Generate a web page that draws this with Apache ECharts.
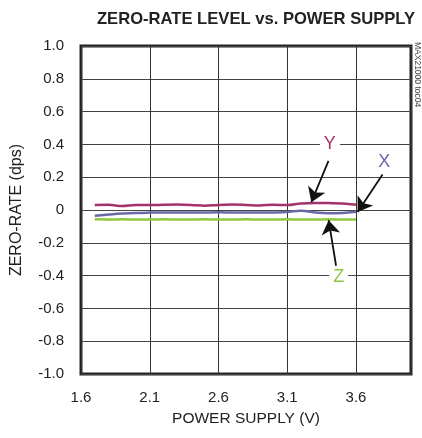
<!DOCTYPE html>
<html><head><meta charset="utf-8">
<script src="https://cdn.jsdelivr.net/npm/echarts@6/dist/echarts.min.js"></script>
<style>html,body{margin:0;padding:0;background:#fff}#c{width:422px;height:438px}</style>
</head><body><div id="c"></div>
<script>
const supplyV = [1.7,1.8,1.9,2.0,2.1,2.2,2.3,2.4,2.5,2.6,2.7,2.8,2.9,3.0,3.1,3.2,3.3,3.4,3.5,3.6];
const yAxisRate = [0.030,0.032,0.024,0.030,0.030,0.032,0.033,0.031,0.026,0.031,0.033,0.031,0.028,0.032,0.030,0.040,0.043,0.042,0.040,0.032];
const xAxisRate = [-0.035,-0.028,-0.022,-0.018,-0.016,-0.015,-0.015,-0.016,-0.015,-0.014,-0.015,-0.016,-0.016,-0.015,-0.012,-0.004,-0.015,-0.020,-0.018,-0.010];
const zAxisRate = [-0.057,-0.058,-0.057,-0.058,-0.058,-0.057,-0.058,-0.058,-0.057,-0.058,-0.058,-0.057,-0.058,-0.058,-0.057,-0.058,-0.058,-0.057,-0.058,-0.058];
const xTicks = [1.6,2.1,2.6,3.1,3.6];
const yTicks = [-1.0,-0.8,-0.6,-0.4,-0.2,0,0.2,0.4,0.6,0.8,1.0];
// annotation: label position [x,y], arrow start, arrow tip
const annY = {label:[3.41,0.40], from:[3.40,0.30], to:[3.275,0.048]};
const annX = {label:[3.805,0.29], from:[3.793,0.216], to:[3.612,-0.012]};
const annZ = {label:[3.474,-0.41], from:[3.455,-0.34], to:[3.401,-0.062]};

const colY = '#a3336b', colX = '#6a69a8', colZ = '#8dc63f';
const font = '"Liberation Sans", Arial, sans-serif';

function pairs(xs, ys){ return xs.map((x,i)=>[x, ys[i]]); }
function ann(a, name, color){
  return {
    type:'line', data:[], silent:true,
    markLine:{
      silent:true, symbol:['none','arrow'], symbolSize:14,
      lineStyle:{color:'#111', width:1.8, type:'solid'},
      label:{show:false},
      data:[[{coord:a.from},{coord:a.to}]],
      animation:false
    },
    markPoint:{
      silent:true, symbol:'rect', symbolSize:[1,1],
      itemStyle:{color:'rgba(0,0,0,0)'},
      label:{show:true, formatter:name, color:color, fontSize:18, fontFamily:font,
             backgroundColor:'#fff', padding:[0,4,0,4], position:'inside'},
      data:[{coord:a.label}],
      animation:false
    }
  };
}

const chart = echarts.init(document.getElementById('c'));
chart.setOption({
  animation:false,
  backgroundColor:'#fff',
  title:{text:'ZERO-RATE LEVEL vs. POWER SUPPLY', left:251, textAlign:'center', top:6,
    textStyle:{fontFamily:font, fontSize:16.6, fontWeight:'bold', color:'#222'}},
  grid:{left:81, right:11, top:46, bottom:64, show:true, borderColor:'#222', borderWidth:3,
    backgroundColor:'transparent', containLabel:false, outerBoundsMode:'none'},
  xAxis:{type:'value', min:1.6, max:4.0, interval:0.5,
    name:'POWER SUPPLY (V)', nameLocation:'middle', nameGap:37,
    nameTextStyle:{fontFamily:font, fontSize:15.5, color:'#222'},
    axisLine:{show:false}, axisTick:{show:false},
    axisLabel:{fontFamily:font, fontSize:15, color:'#222', margin:16, showMaxLabel:false,
      formatter:v=> xTicks.some(t=>Math.abs(t-v)<1e-6) ? v.toFixed(1) : ''},
    splitLine:{show:true, lineStyle:{color:'#333', width:1}}},
  yAxis:{type:'value', min:-1.0, max:1.0, interval:0.2,
    name:'ZERO-RATE (dps)', nameLocation:'middle', nameGap:56,
    nameTextStyle:{fontFamily:font, fontSize:16, color:'#222'},
    axisLine:{show:false}, axisTick:{show:false},
    axisLabel:{fontFamily:font, fontSize:15, color:'#222', margin:17,
      formatter:v=>{ const t = yTicks.find(t=>Math.abs(t-v)<1e-6); return t===undefined?'':(Math.abs(t)<1e-9?'0':t.toFixed(1)); }},
    splitLine:{show:true, lineStyle:{color:'#444', width:1}}},
  graphic:[{type:'text', left:413, top:42, rotation:-Math.PI/2,
    style:{text:'MAX21000 toc04', fontSize:8.5, fontFamily:font, fill:'#444'}}],
  series:[
    {name:'Z', type:'line', data:pairs(supplyV,zAxisRate), showSymbol:false, smooth:0.4,
      lineStyle:{color:colZ, width:2.5}, z:3},
    {name:'X', type:'line', data:pairs(supplyV,xAxisRate), showSymbol:false, smooth:0.4,
      lineStyle:{color:colX, width:2.5}, z:3},
    {name:'Y', type:'line', data:pairs(supplyV,yAxisRate), showSymbol:false, smooth:0.4,
      lineStyle:{color:colY, width:2.5}, z:3},
    ann(annY,'Y',colY), ann(annX,'X',colX), ann(annZ,'Z',colZ)
  ]
});
</script></body></html>
